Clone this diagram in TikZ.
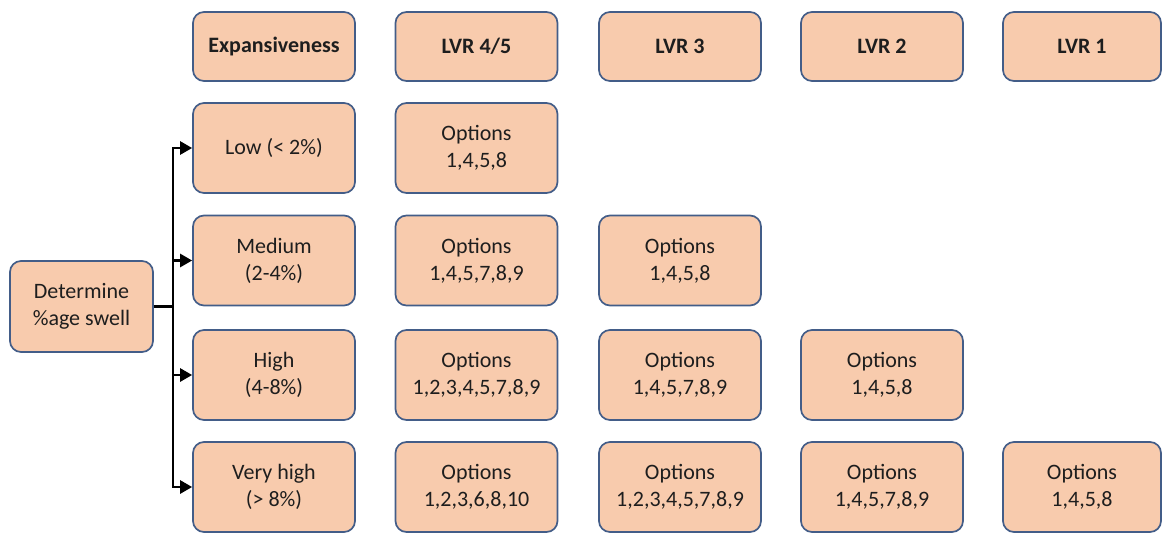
\documentclass[tikz,border=0pt]{standalone}
\usepackage{fontspec}
\setmainfont{Carlito}
\usetikzlibrary{arrows.meta}
\definecolor{boxfill}{HTML}{F8CBAD}
\definecolor{boxline}{HTML}{435D88}
\definecolor{textc}{HTML}{1E1E1E}
\begin{document}
\begin{tikzpicture}[x=1pt,y=1pt,
  cell/.style={draw=boxline, line width=1.7pt, fill=boxfill, rounded corners=11pt,
    minimum width=162pt, minimum height=90pt, inner sep=0pt, align=center,
    text=textc, font=\fontsize{22}{27}\selectfont},
  head/.style={cell, minimum height=69pt, font=\fontsize{22}{27}\selectfont\bfseries},
  link/.style={line width=2.6pt, draw=black, -{Triangle[length=12pt,width=13pt]}}
]
\useasboundingbox (0,0) rectangle (1162,-533);

% column headers
\node[head] (hexp) at (274,-46.5)   {Expansiveness};
\node[head] (h45)  at (476.5,-46.5) {LVR 4/5};
\node[head] (h3)   at (680,-46.5)   {LVR 3};
\node[head] (h2)   at (882,-46.5)   {LVR 2};
\node[head, minimum width=158pt] (h1) at (1082,-46.5) {LVR 1};

% swell classes
\node[cell] (low)   at (274,-148)   {Low (< 2\%)};
\node[cell] (med)   at (274,-260.5) {Medium\\(2-4\%)};
\node[cell] (high)  at (274,-375)   {High\\(4-8\%)};
\node[cell] (vhigh) at (274,-487)   {Very high\\(> 8\%)};

% options per LVR
\node[cell] (o11) at (476.5,-148)   {Options\\1,4,5,8};
\node[cell] (o21) at (476.5,-260.5) {Options\\1,4,5,7,8,9};
\node[cell] (o22) at (680,-260.5)   {Options\\1,4,5,8};
\node[cell] (o31) at (476.5,-375)   {Options\\1,2,3,4,5,7,8,9};
\node[cell] (o32) at (680,-375)     {Options\\1,4,5,7,8,9};
\node[cell] (o33) at (882,-375)     {Options\\1,4,5,8};
\node[cell] (o41) at (476.5,-487)   {Options\\1,2,3,6,8,10};
\node[cell] (o42) at (680,-487)     {Options\\1,2,3,4,5,7,8,9};
\node[cell] (o43) at (882,-487)     {Options\\1,4,5,7,8,9};
\node[cell, minimum width=158pt] (o44) at (1082,-487) {Options\\1,4,5,8};

% starting step
\node[cell, minimum width=143pt, minimum height=91pt] (det) at (81.5,-306.5) {Determine\\\%age swell};

% branching connectors
\foreach \t in {low,med,high,vhigh}
  \draw[link] (det.east) -- ++(19,0) |- (\t.west);
\end{tikzpicture}
\end{document}
